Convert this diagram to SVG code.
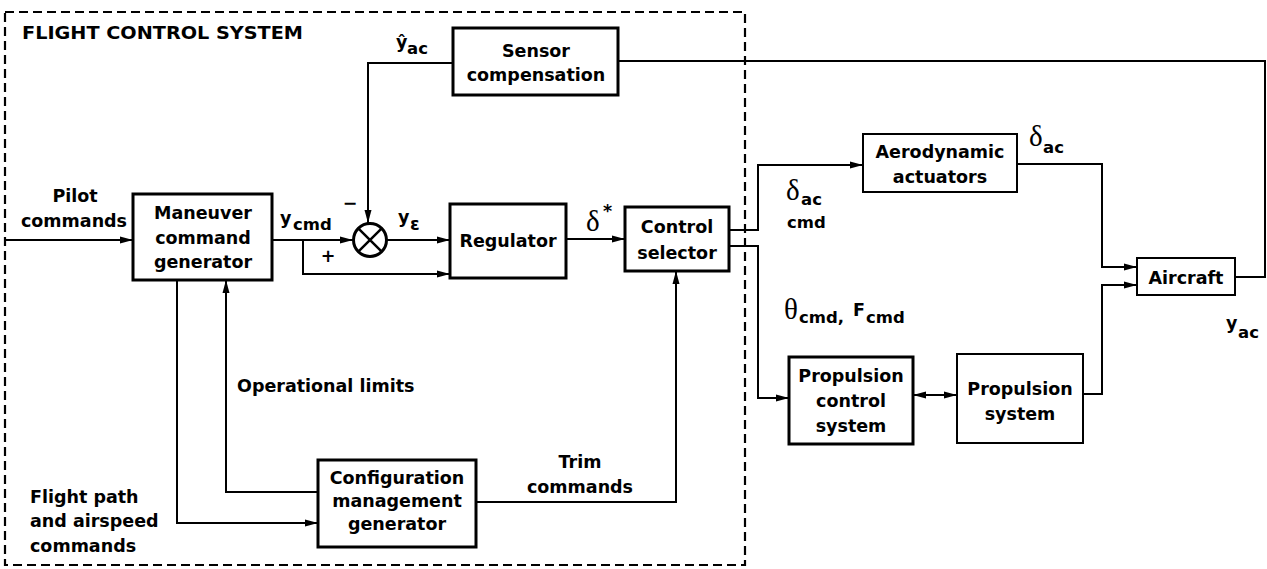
<svg xmlns="http://www.w3.org/2000/svg" width="1267" height="569" viewBox="0 0 1267 569">
  <defs>
    <marker id="arrow" markerUnits="userSpaceOnUse" markerWidth="14" markerHeight="10" refX="13" refY="4" orient="auto-start-reverse">
      <path d="M0,0.5 L13,4 L0,7.5 Z" fill="#000"/>
    </marker>
    <style>
      .box { fill: #fff; stroke: #000; stroke-width: 3; }
      .box.thin { stroke-width: 2; }
      .wire { fill: none; stroke: #000; stroke-width: 2; }
      .wire.arr { marker-end: url(#arrow); }
      .frame { fill: none; stroke: #000; stroke-width: 2.2; stroke-dasharray: 9 5; }
      text { font-family: "DejaVu Sans", "Liberation Sans", sans-serif; font-weight: bold; font-size: 17.5px; fill: #000; }
      .c { text-anchor: middle; }
      .sub { font-size: 16.5px; }
      .greek { font-family: "Liberation Serif", "DejaVu Serif", serif; font-weight: normal; font-size: 29px; }
    </style>
  </defs>

  <rect width="1267" height="569" fill="#fff"/>

  <!-- flight control system boundary -->
  <g id="fcs-frame">
    <rect class="frame" x="5" y="12" width="740" height="553"/>
    <text x="22" y="39" font-size="17" textLength="281" lengthAdjust="spacingAndGlyphs">FLIGHT CONTROL SYSTEM</text>
  </g>

  <!-- connectors -->
  <g id="connectors">
    <path class="wire arr" d="M4,240 H133"/>
    <path class="wire arr" d="M272,240 H353"/>
    <path class="wire arr" d="M303,240 V274 H450"/>
    <path class="wire arr" d="M387,240 H450"/>
    <path class="wire arr" d="M453,63 H368 V223"/>
    <path class="wire" d="M1235,277 H1265 V61 H618"/>
    <path class="wire arr" d="M566,239 H625"/>
    <path class="wire arr" d="M729,230 H758 V165 H863"/>
    <path class="wire arr" d="M729,246 H758 V398 H789"/>
    <path class="wire arr" d="M1017,164 H1102 V267 H1137"/>
    <path class="wire arr" d="M1083,394 H1102 V285 H1137"/>
    <path class="wire arr" d="M913,395 H957" marker-start="url(#arrow)"/>
    <path class="wire arr" d="M177,280 V523 H318"/>
    <path class="wire arr" d="M318,492 H226 V280"/>
    <path class="wire arr" d="M476,502 H676 V271"/>
  </g>

  <!-- summing junction -->
  <g id="sum">
    <circle cx="370" cy="240" r="16.5" fill="#fff" stroke="#000" stroke-width="3"/>
    <path d="M358.3,228.3 L381.7,251.7 M381.7,228.3 L358.3,251.7" stroke="#000" stroke-width="2.5"/>
    <text x="350" y="209" class="c" font-size="16">−</text>
    <text x="328" y="262" class="c" font-size="14">+</text>
  </g>

  <g id="sensor-compensation">
    <rect class="box" x="453" y="28" width="165" height="67"/>
    <text x="536" y="57" class="c">Sensor</text>
    <text x="536" y="81" class="c">compensation</text>
  </g>

  <g id="maneuver-command-generator">
    <rect class="box" x="133" y="194" width="139" height="86"/>
    <text x="203" y="219" class="c">Maneuver</text>
    <text x="203" y="244" class="c">command</text>
    <text x="203" y="268" class="c">generator</text>
  </g>

  <g id="regulator">
    <rect class="box" x="450" y="204" width="116" height="74"/>
    <text x="508" y="247" class="c">Regulator</text>
  </g>

  <g id="control-selector">
    <rect class="box" x="625" y="207" width="104" height="64"/>
    <text x="677" y="233" class="c">Control</text>
    <text x="677" y="259" class="c">selector</text>
  </g>

  <g id="configuration-management-generator">
    <rect class="box" x="318" y="460" width="158" height="87"/>
    <text x="397" y="484" class="c">Configuration</text>
    <text x="397" y="507" class="c">management</text>
    <text x="397" y="530" class="c">generator</text>
  </g>

  <g id="aerodynamic-actuators">
    <rect class="box thin" x="863" y="134" width="154" height="58"/>
    <text x="940" y="158" class="c">Aerodynamic</text>
    <text x="940" y="183" class="c">actuators</text>
  </g>

  <g id="aircraft">
    <rect class="box thin" x="1137" y="258" width="98" height="37"/>
    <text x="1186" y="284" class="c">Aircraft</text>
  </g>

  <g id="propulsion-control-system">
    <rect class="box" x="789" y="357" width="124" height="87"/>
    <text x="851" y="382" class="c">Propulsion</text>
    <text x="851" y="407" class="c">control</text>
    <text x="851" y="432" class="c">system</text>
  </g>

  <g id="propulsion-system">
    <rect class="box thin" x="957" y="354" width="126" height="89"/>
    <text x="1020" y="395" class="c">Propulsion</text>
    <text x="1020" y="420" class="c">system</text>
  </g>

  <!-- signal labels -->
  <g id="labels">
    <text x="75" y="202" class="c">Pilot</text>
    <text x="74" y="227" class="c">commands</text>

    <text x="30" y="503">Flight path</text>
    <text x="30" y="527">and airspeed</text>
    <text x="30" y="552">commands</text>

    <text x="237" y="392">Operational limits</text>

    <text x="580" y="468" class="c">Trim</text>
    <text x="580" y="493" class="c">commands</text>

    <text x="396" y="48" font-size="18">ŷ</text>
    <text x="407" y="54" class="sub">ac</text>

    <text x="280" y="224">y</text>
    <text x="293" y="230" class="sub">cmd</text>

    <text x="398" y="223">y</text>
    <text x="410" y="230" font-family="Liberation Serif, serif" font-weight="normal" font-size="20">ε</text>

    <text x="586" y="231" class="greek">δ</text>
    <text x="603" y="217" font-family="Liberation Serif, serif" font-weight="bold" font-size="8">*</text>

    <text x="786" y="200" class="greek">δ</text>
    <text x="801" y="205" class="sub">ac</text>
    <text x="787" y="228" class="sub">cmd</text>

    <text x="1029" y="146" class="greek">δ</text>
    <text x="1043" y="153" class="sub">ac</text>

    <text x="784" y="319" class="greek" font-size="25">θ</text>
    <text x="799" y="323" class="sub">cmd,</text>
    <text x="853" y="316" font-size="14">F</text>
    <text x="866" y="323" class="sub">cmd</text>

    <text x="1226" y="329">y</text>
    <text x="1238" y="338" class="sub">ac</text>
  </g>
</svg>
